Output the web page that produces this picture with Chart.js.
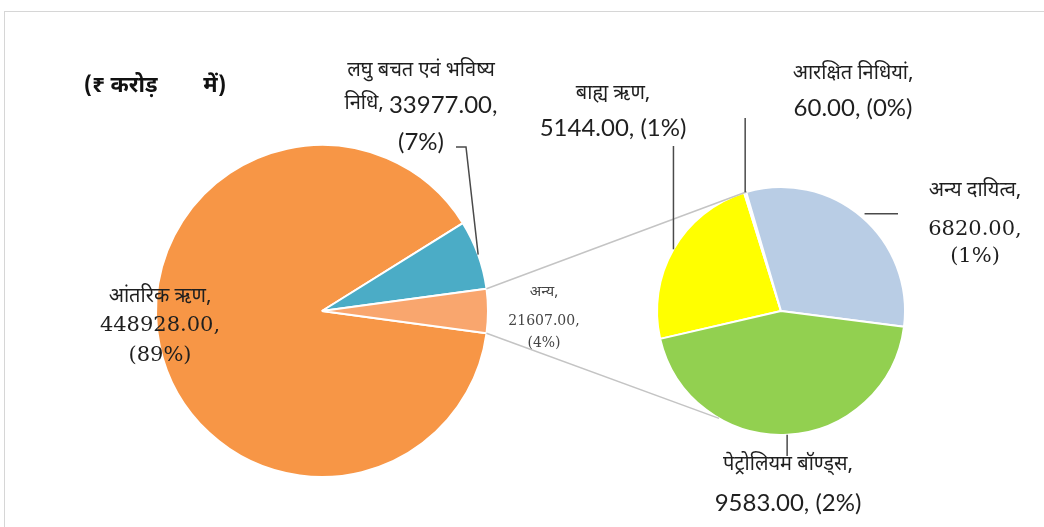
<!DOCTYPE html>
<html>
<head>
<meta charset="utf-8">
<script src="https://cdn.jsdelivr.net/npm/chart.js"></script>
<style>
  html, body { margin: 0; padding: 0; background: #fff; }
  #wrap { position: relative; width: 1044px; height: 527px; overflow: hidden; }
  #frame { position: absolute; left: 4px; top: 11px; width: 1060px; height: 540px; border: 1px solid #d6d6d6; }
  canvas { position: absolute; left: 0; top: 0; }
</style>
</head>
<body>
<div id="wrap">
  <div id="frame"></div>
  <canvas id="mainPie" width="1044" height="527"></canvas>
  <canvas id="subPie" width="1044" height="527"></canvas>
</div>
<script>
// ऋण के घटक, ₹ करोड़ में
var mainLabels = ["आंतरिक ऋण", "लघु बचत एवं भविष्य निधि", "अन्य"];
var mainValues = [448928, 33977, 21607];
// "अन्य" का विभाजन
var subLabels = ["बाह्य ऋण", "आरक्षित निधियां", "अन्य दायित्व", "पेट्रोलियम बॉण्ड्स"];
var subValues = [5144, 60, 6820, 9583];
var unitText = "(₹ करोड़        में)";

var mainColors = ["#F79646", "#4BACC6", "#F9A66E"];
var subColors = ["#FFFF00", "#B9CDE5", "#B9CDE5", "#92D050"];

var total = mainValues.reduce(function (a, b) { return a + b; }, 0);

// keep the "अन्य" slice pointing straight at the second pie
var mainRotation = 90 - (mainValues[0] + mainValues[1] + mainValues[2] / 2) / total * 360;

var DEV = "'Noto Sans Devanagari', 'Lohit Devanagari', 'Noto Sans', sans-serif";
var F_DEV = "20px " + DEV;
var F_DEV_SMALL = "15px " + DEV;
var F_SERIF = "21px 'DejaVu Serif', serif";
var F_SERIF_SMALL = "14px 'DejaVu Serif', serif";
var F_SANS = "24px Lato, sans-serif";

function num(v) { return v.toFixed(2); }
function pct(v) { return "(" + Math.round(v / total * 100) + "%)"; }

var blueWords = mainLabels[1].split(" ");

// label blocks: centre x, then [middle y, [[font, text], ...]] per line
var labelLayout = [
  { x: 160, color: "#1f1f1f", lines: [
    [298, [[F_DEV, mainLabels[0] + ","]]],
    [326, [[F_SERIF, num(mainValues[0]) + ","]]],
    [356, [[F_SERIF, pct(mainValues[0])]]]] },
  { x: 421, color: "#1f1f1f", lines: [
    [72, [[F_DEV, blueWords.slice(0, 4).join(" ")]]],
    [105, [[F_DEV, blueWords[4] + ", "], [F_SANS, num(mainValues[1]) + ","]]],
    [142, [[F_SANS, pct(mainValues[1])]]]] },
  { x: 544, color: "#454545", lines: [
    [293, [[F_DEV_SMALL, mainLabels[2] + ","]]],
    [321, [[F_SERIF_SMALL, num(mainValues[2]) + ","]]],
    [343, [[F_SERIF_SMALL, pct(mainValues[2])]]]] },
  { x: 613, color: "#1f1f1f", lines: [
    [95, [[F_DEV, subLabels[0] + ","]]],
    [128, [[F_SANS, num(subValues[0]) + ", " + pct(subValues[0])]]]] },
  { x: 853, color: "#1f1f1f", lines: [
    [75, [[F_DEV, subLabels[1] + ","]]],
    [108, [[F_SANS, num(subValues[1]) + ", " + pct(subValues[1])]]]] },
  { x: 975, color: "#1f1f1f", lines: [
    [192, [[F_DEV, subLabels[2] + ","]]],
    [230, [[F_SERIF, num(subValues[2]) + ","]]],
    [257, [[F_SERIF, pct(subValues[2])]]]] },
  { x: 788, color: "#1f1f1f", lines: [
    [466, [[F_DEV, subLabels[3] + ","]]],
    [503, [[F_SANS, num(subValues[3]) + ", " + pct(subValues[3])]]]] }
];

function drawLine(ctx, segs, cx, y) {
  var w = 0;
  segs.forEach(function (s) { ctx.font = s[0]; w += ctx.measureText(s[1]).width; });
  var x = cx - w / 2;
  segs.forEach(function (s) {
    ctx.font = s[0];
    ctx.fillText(s[1], x, y);
    x += ctx.measureText(s[1]).width;
  });
}

function edgePoint(arc, angle, r) {
  return { x: arc.x + r * Math.cos(angle), y: arc.y + r * Math.sin(angle) };
}
function midPoint(arc) {
  return edgePoint(arc, (arc.startAngle + arc.endAngle) / 2, arc.outerRadius);
}
function polyline(ctx, pts) {
  ctx.beginPath();
  ctx.moveTo(pts[0].x, pts[0].y);
  for (var i = 1; i < pts.length; i++) ctx.lineTo(pts[i].x, pts[i].y);
  ctx.stroke();
}

var mainChart = new Chart(document.getElementById("mainPie"), {
  type: "pie",
  data: {
    labels: mainLabels,
    datasets: [{ data: mainValues, backgroundColor: mainColors, borderColor: "#ffffff", borderWidth: 2 }]
  },
  options: {
    responsive: false,
    animation: false,
    rotation: mainRotation,
    layout: { padding: { left: 155, top: 144, right: 555, bottom: 49 } },
    plugins: { legend: { display: false }, tooltip: { enabled: false } }
  }
});

var pieLabels = {
  id: "pieLabels",
  afterDraw: function (chart) {
    var ctx = chart.ctx;
    var other = mainChart.getDatasetMeta(0).data[2];
    var blue = mainChart.getDatasetMeta(0).data[1];
    var subs = chart.getDatasetMeta(0).data;
    var c = subs[0];
    var deg = Math.PI / 180;

    ctx.save();
    // connectors from "अन्य" to the second pie
    ctx.strokeStyle = "#c4c4c4";
    ctx.lineWidth = 1.5;
    polyline(ctx, [edgePoint(other, other.startAngle, other.outerRadius), edgePoint(c, -106 * deg, c.outerRadius)]);
    polyline(ctx, [edgePoint(other, other.endAngle, other.outerRadius), edgePoint(c, 120 * deg, c.outerRadius)]);

    // leader lines
    ctx.strokeStyle = "#4a4a4a";
    ctx.lineWidth = 1.5;
    var m = midPoint(blue);
    polyline(ctx, [m, { x: 466, y: 147 }, { x: 456, y: 147 }]);
    m = midPoint(subs[0]);
    polyline(ctx, [m, { x: m.x, y: 146 }]);
    m = midPoint(subs[1]);
    polyline(ctx, [m, { x: m.x, y: 118 }]);
    m = midPoint(subs[2]);
    polyline(ctx, [{ x: m.x + 3, y: m.y - 3 }, { x: 898, y: m.y - 3 }]);
    m = midPoint(subs[3]);
    polyline(ctx, [m, { x: m.x, y: 456 }]);

    // text
    ctx.textAlign = "left";
    ctx.textBaseline = "middle";
    labelLayout.forEach(function (b) {
      ctx.fillStyle = b.color;
      b.lines.forEach(function (ln) { drawLine(ctx, ln[1], b.x, ln[0]); });
    });
    ctx.fillStyle = "#111111";
    drawLine(ctx, [["bold 22px " + DEV, unitText]], 155, 88);
    ctx.restore();
  }
};

var subChart = new Chart(document.getElementById("subPie"), {
  type: "pie",
  data: {
    labels: subLabels,
    datasets: [{ data: subValues, backgroundColor: subColors, borderColor: "#ffffff", borderWidth: 2 }]
  },
  options: {
    responsive: false,
    animation: false,
    rotation: 257,
    layout: { padding: { left: 656, top: 186, right: 138, bottom: 91 } },
    plugins: { legend: { display: false }, tooltip: { enabled: false } }
  },
  plugins: [pieLabels]
});
</script>
</body>
</html>
